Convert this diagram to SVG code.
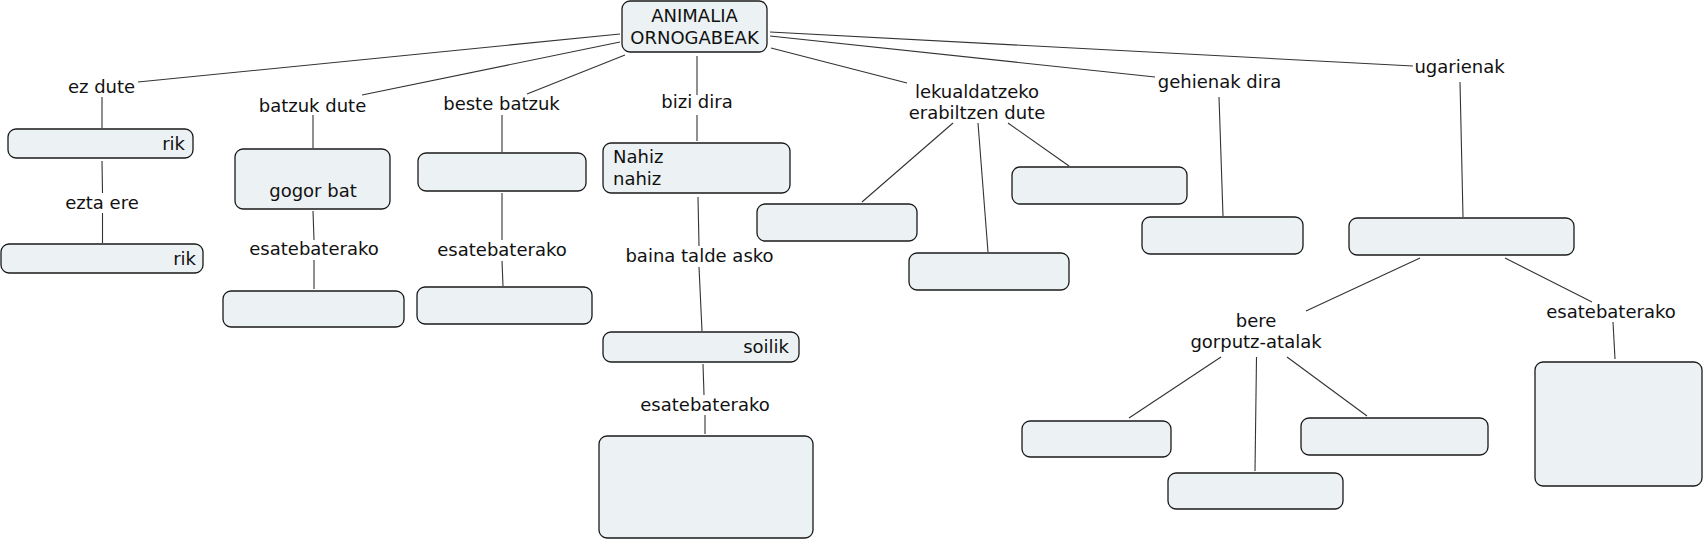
<svg xmlns="http://www.w3.org/2000/svg" width="1703" height="540" viewBox="0 0 1703 540">
<style>
.b{fill:#ecf2f4;stroke:#1a1a1a;stroke-width:1.3}
text{font-family:"DejaVu Sans","Verdana",sans-serif;font-size:18px;fill:#111}
.m{text-anchor:middle}
.e{text-anchor:end}
#links line{stroke:#333;stroke-width:1.1}
</style>
<rect width="1703" height="540" fill="#fff"/>
<g id="links">
<line x1="620" y1="34" x2="138" y2="82"/>
<line x1="620" y1="42" x2="362" y2="95"/>
<line x1="625" y1="55" x2="527" y2="94"/>
<line x1="697" y1="56" x2="697" y2="95"/>
<line x1="771" y1="48" x2="907" y2="83"/>
<line x1="770" y1="36" x2="1155" y2="77"/>
<line x1="770" y1="32" x2="1413" y2="66"/>
<line x1="102" y1="97" x2="102" y2="128"/>
<line x1="102" y1="161" x2="102.5" y2="193"/>
<line x1="102.5" y1="213" x2="102.5" y2="243"/>
<line x1="313" y1="115" x2="313" y2="148"/>
<line x1="313" y1="211" x2="314" y2="240"/>
<line x1="314" y1="260" x2="314" y2="289"/>
<line x1="502" y1="115" x2="502" y2="152"/>
<line x1="502" y1="193" x2="502" y2="240"/>
<line x1="502" y1="261" x2="503" y2="286"/>
<line x1="697" y1="115" x2="697" y2="141"/>
<line x1="698" y1="197" x2="699" y2="246"/>
<line x1="699" y1="267" x2="702" y2="331"/>
<line x1="703" y1="364" x2="704" y2="395"/>
<line x1="705" y1="415" x2="705" y2="434"/>
<line x1="953" y1="123" x2="862" y2="202"/>
<line x1="978" y1="123" x2="988" y2="252"/>
<line x1="1008" y1="123" x2="1069" y2="166"/>
<line x1="1219" y1="97" x2="1223" y2="216"/>
<line x1="1460" y1="82" x2="1463" y2="217"/>
<line x1="1420" y1="258" x2="1306" y2="311"/>
<line x1="1505" y1="258" x2="1592" y2="302"/>
<line x1="1613" y1="322" x2="1615" y2="359"/>
<line x1="1221" y1="357" x2="1129" y2="418"/>
<line x1="1256.5" y1="357" x2="1255" y2="471"/>
<line x1="1287" y1="357" x2="1367" y2="416"/>
</g>
<g id="root"><rect class="b" x="622" y="1" width="145" height="51" rx="8"/><text class="m" x="694.5" y="22">ANIMALIA</text><text class="m" x="694.5" y="44">ORNOGABEAK</text></g>
<g id="l-ezdute"><text class="m" x="101.5" y="93">ez dute</text></g>
<g id="n-rik1"><rect class="b" x="8" y="129" width="185" height="29" rx="8"/><text class="e" x="185" y="150">rik</text></g>
<g id="l-eztaere"><text class="m" x="102" y="209">ezta ere</text></g>
<g id="n-rik2"><rect class="b" x="1" y="244" width="202" height="29" rx="8"/><text class="e" x="196" y="265">rik</text></g>
<g id="l-batzuk"><text class="m" x="312.5" y="112">batzuk dute</text></g>
<g id="n-gogor"><rect class="b" x="235" y="149" width="155" height="60" rx="8"/><text class="m" x="313" y="197">gogor bat</text></g>
<g id="l-esate1"><text class="m" x="314" y="255">esatebaterako</text></g>
<g id="n-ex1"><rect class="b" x="223" y="291" width="181" height="36" rx="8"/></g>
<g id="l-beste"><text class="m" x="501.5" y="110">beste batzuk</text></g>
<g id="n-beste"><rect class="b" x="418" y="153" width="168" height="38" rx="8"/></g>
<g id="l-esate2"><text class="m" x="502" y="256">esatebaterako</text></g>
<g id="n-ex2"><rect class="b" x="417" y="287" width="175" height="37" rx="8"/></g>
<g id="l-bizi"><text class="m" x="697" y="108">bizi dira</text></g>
<g id="n-nahiz"><rect class="b" x="603" y="143" width="187" height="50" rx="8"/><text x="613" y="163">Nahiz</text><text x="613" y="185">nahiz</text></g>
<g id="l-baina"><text class="m" x="699.5" y="262">baina talde asko</text></g>
<g id="n-soilik"><rect class="b" x="603" y="332" width="196" height="30" rx="8"/><text class="e" x="789" y="353">soilik</text></g>
<g id="l-esate3"><text class="m" x="705" y="411">esatebaterako</text></g>
<g id="n-ex3"><rect class="b" x="599" y="436" width="214" height="102" rx="8"/></g>
<g id="l-lekual"><text class="m" x="977" y="98">lekualdatzeko</text><text class="m" x="977" y="119">erabiltzen dute</text></g>
<g id="n-lek1"><rect class="b" x="757" y="204" width="160" height="37" rx="8"/></g>
<g id="n-lek2"><rect class="b" x="909" y="253" width="160" height="37" rx="8"/></g>
<g id="n-lek3"><rect class="b" x="1012" y="167" width="175" height="37" rx="8"/></g>
<g id="l-gehienak"><text class="m" x="1219.5" y="88">gehienak dira</text></g>
<g id="n-gehienak"><rect class="b" x="1142" y="217" width="161" height="37" rx="8"/></g>
<g id="l-ugarienak"><text class="m" x="1459.5" y="73">ugarienak</text></g>
<g id="n-ugarienak"><rect class="b" x="1349" y="218" width="225" height="37" rx="8"/></g>
<g id="l-bere"><text class="m" x="1256" y="327">bere</text><text class="m" x="1256" y="348">gorputz-atalak</text></g>
<g id="n-atal1"><rect class="b" x="1022" y="421" width="149" height="36" rx="8"/></g>
<g id="n-atal2"><rect class="b" x="1168" y="473" width="175" height="36" rx="8"/></g>
<g id="n-atal3"><rect class="b" x="1301" y="418" width="187" height="37" rx="8"/></g>
<g id="l-esate4"><text class="m" x="1611" y="318">esatebaterako</text></g>
<g id="n-ex4"><rect class="b" x="1535" y="362" width="167" height="124" rx="8"/></g>
</svg>
